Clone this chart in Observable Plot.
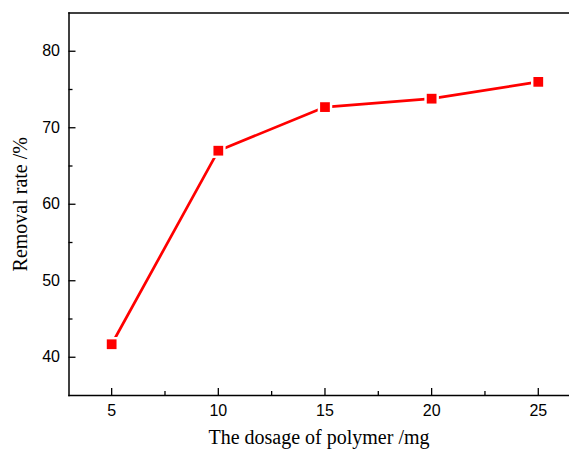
<!DOCTYPE html>
<html><head><meta charset="utf-8">
<script src="https://cdn.jsdelivr.net/npm/d3@7"></script>
<script src="https://cdn.jsdelivr.net/npm/@observablehq/plot@0.6"></script>
<style>html,body{margin:0;padding:0;overflow:hidden;background:#fff;}</style>
</head><body><div id="chart"></div>
<script>
const dosage = [5, 10, 15, 20, 25];
const removal = [41.7, 67.0, 72.7, 73.8, 76.0];
const xMajor = [5, 10, 15, 20, 25];
const xMinor = [7.5, 12.5, 17.5, 22.5];
const yMajor = [40, 50, 60, 70, 80];
const yMinor = [45, 55, 65, 75];
const data = dosage.map((d, i) => ({x: d, y: removal[i]}));

const W = 569, H = 450, mL = 68.5, mR = 0.5, mT = 12.5, mB = 55;
const pw = W - mL - mR, ph = H - mT - mB;

const chart = Plot.plot({
  width: W, height: H,
  marginLeft: mL, marginRight: mR, marginTop: mT, marginBottom: mB,
  x: {domain: [3, 26.44]},
  y: {domain: [35, 85]},
  style: {fontFamily: "Liberation Sans, Arial, sans-serif", background: "#fff"},
  marks: [
    Plot.frame({anchor: "top", stroke: "#000", strokeWidth: 1.5}),
    Plot.frame({anchor: "left", stroke: "#000", strokeWidth: 1.5}),
    Plot.frame({anchor: "bottom", stroke: "#000", strokeWidth: 1.5}),
    Plot.tickX(xMajor, {x: d => d, insetTop: ph - 7, stroke: "#000", strokeWidth: 1.3}),
    Plot.tickX(xMinor, {x: d => d, insetTop: ph - 4, stroke: "#000", strokeWidth: 1.3}),
    Plot.tickY(yMajor, {y: d => d, insetRight: pw - 7, stroke: "#000", strokeWidth: 1.3}),
    Plot.tickY(yMinor, {y: d => d, insetRight: pw - 4, stroke: "#000", strokeWidth: 1.3}),
    Plot.axisX(xMajor, {tickSize: 0, tickPadding: 9, fontSize: 16, fill: "#000", label: null}),
    Plot.axisY(yMajor, {tickSize: 0, tickPadding: 9, fontSize: 16, fill: "#000", label: null}),
    Plot.line(data, {x: "x", y: "y", stroke: "#ff0000", strokeWidth: 2.7}),
    Plot.dot(data, {x: "x", y: "y", symbol: "square", r: 8.2, fill: "#fff"}),
    Plot.dot(data, {x: "x", y: "y", symbol: "square", r: 5.5, fill: "#ff0000"}),
    Plot.text(["Removal rate /%"], {text: d => d, frameAnchor: "left", textAnchor: "middle", dx: -48, rotate: -90,
      fontSize: 20, fontFamily: "Liberation Serif, Times New Roman, serif", fill: "#000"}),
    Plot.text(["The dosage of polymer /mg"], {text: d => d, frameAnchor: "bottom", dy: 42, lineAnchor: "middle",
      fontSize: 20, fontFamily: "Liberation Serif, Times New Roman, serif", fill: "#000"})
  ]
});
document.getElementById("chart").appendChild(chart);
</script>
</body></html>
